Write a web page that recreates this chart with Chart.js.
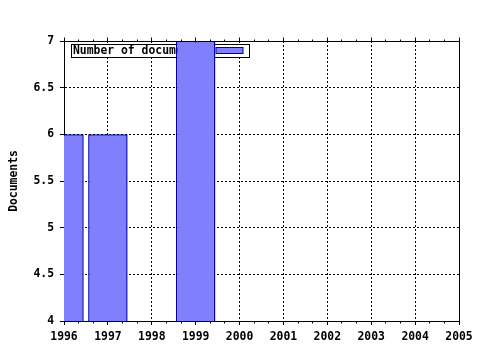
<!DOCTYPE html>
<html>
<head>
<meta charset="utf-8">
<script src="https://cdn.jsdelivr.net/npm/chart.js@4/dist/chart.umd.min.js"></script>
<style>
html,body{margin:0;padding:0;background:#fff;}
canvas{display:block;}
</style>
</head>
<body>
<canvas id="c" width="480" height="350"></canvas>
<script>
const years = [1996, 1997, 1999];
const documents = [6, 6, 7];
const seriesLabel = 'Number of documents';
const yTitle = 'Documents';
const xMin = 1996, xMax = 2005;
const yMin = 4, yMax = 7, yStep = 0.5;

const FONT = {family: "'DejaVu Sans Mono', monospace", size: 11.4, weight: 'bold'};
const BAR_FILL = 'rgb(128,128,255)';
const BAR_EDGE = 'rgb(0,0,170)';

const al = p => Math.round(p - 0.5) + 0.5;

const framePlugin = {
  id: 'frame',
  beforeDatasetsDraw(chart) {
    const ctx = chart.ctx;
    const a = chart.chartArea;
    const x0 = a.left + 7.5, y0 = a.top + 3.5, w = 178, h = 13;
    ctx.save();
    ctx.fillStyle = '#fff';
    ctx.fillRect(x0, y0, w, h);
    ctx.strokeStyle = '#000';
    ctx.lineWidth = 1;
    ctx.strokeRect(x0, y0, w, h);
    ctx.font = `bold ${FONT.size}px ${FONT.family}`;
    ctx.fillStyle = '#000';
    ctx.textBaseline = 'middle';
    ctx.textAlign = 'left';
    ctx.fillText(chart.data.datasets[0].label, x0 + 1.5, y0 + h / 2 + 0.5);
    ctx.fillStyle = BAR_FILL;
    ctx.fillRect(x0 + 144.5, y0 + 3, 27, 6);
    ctx.strokeStyle = BAR_EDGE;
    ctx.strokeRect(x0 + 144.5, y0 + 3, 27, 6);
    ctx.restore();
  },
  afterDatasetsDraw(chart) {
    const ctx = chart.ctx;
    const a = chart.chartArea;
    const xs = chart.scales.x;
    const top = al(a.top), bottom = al(a.bottom), left = al(a.left), right = al(a.right);
    ctx.save();
    ctx.strokeStyle = '#000';
    ctx.lineWidth = 1;
    ctx.beginPath();
    ctx.moveTo(left, top);
    ctx.lineTo(right, top);
    ctx.lineTo(right, bottom);
    for (let v = xMin; v <= xMax; v++) {
      const px = al(xs.getPixelForValue(v));
      ctx.moveTo(px, top);
      ctx.lineTo(px, top - 4);
      if (v < xMax) {
        for (const f of [1/3, 2/3]) {
          const mx = al(xs.getPixelForValue(v + f));
          ctx.moveTo(mx, top);
          ctx.lineTo(mx, top - 2);
          ctx.moveTo(mx, bottom);
          ctx.lineTo(mx, bottom + 2);
        }
      }
    }
    ctx.stroke();
    ctx.restore();
  }
};

const chart = new Chart(document.getElementById('c'), {
  type: 'bar',
  data: {
    datasets: [{
      label: seriesLabel,
      data: years.map((y, i) => ({x: y, y: documents[i]})),
      backgroundColor: BAR_FILL,
      borderColor: BAR_EDGE,
      borderWidth: 1.5,
      borderSkipped: 'start',
      barPercentage: 0.9,
      categoryPercentage: 1.0,
      clip: 0
    }]
  },
  options: {
    responsive: false,
    animation: false,
    layout: {padding: {top: 41, right: 21, left: 0, bottom: 0}},
    plugins: {legend: {display: false}, tooltip: {enabled: false}},
    scales: {
      x: {
        type: 'linear',
        min: xMin, max: xMax,
        offset: false,
        grid: {color: '#000', offset: false, tickLength: 4, tickBorderDash: [], drawTicks: true},
        border: {display: true, color: '#000', width: 1, dash: [2, 2]},
        ticks: {stepSize: 1, color: '#000', font: FONT, padding: 5, maxRotation: 0, autoSkip: false,
                callback: v => String(v)},
        afterFit(s) { s.height = 29; }
      },
      y: {
        min: yMin, max: yMax,
        grid: {color: '#000', offset: false, tickLength: 4, tickBorderDash: []},
        border: {display: true, color: '#000', width: 1, dash: [2, 2]},
        ticks: {stepSize: yStep, color: '#000', font: FONT, padding: 6,
                callback: v => String(v)},
        title: {display: true, text: yTitle, color: '#000', font: FONT, padding: {top: 7, bottom: 0}},
        afterFit(s) { s.width = 64; }
      }
    }
  },
  plugins: [framePlugin]
});
</script>
</body>
</html>
